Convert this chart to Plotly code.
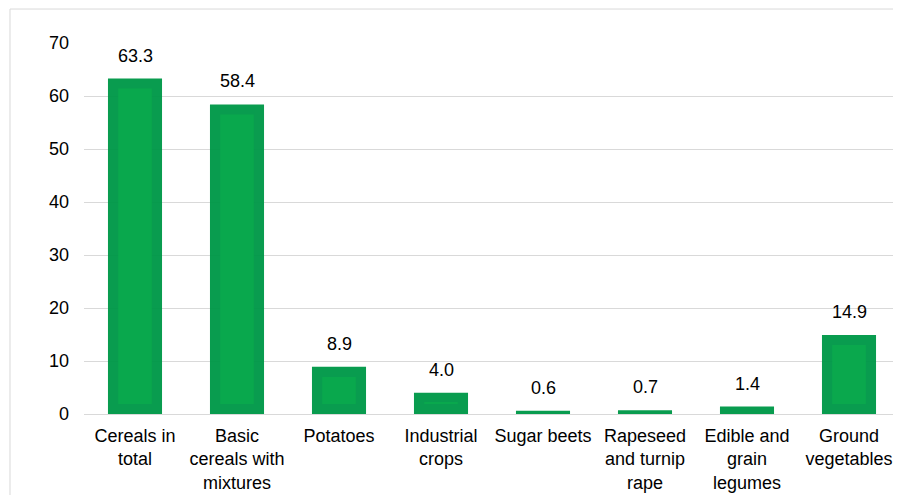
import plotly.graph_objects as go

categories = ["Cereals in<br>total", "Basic<br>cereals with<br>mixtures", "Potatoes",
              "Industrial<br>crops", "Sugar beets", "Rapeseed<br>and turnip<br>rape",
              "Edible and<br>grain<br>legumes", "Ground<br>vegetables"]
values = [63.3, 58.4, 8.9, 4.0, 0.6, 0.7, 1.4, 14.9]
y_ticks = [0, 10, 20, 30, 40, 50, 60, 70]

OUTER = "#009848"
INNER = "#0AA94D"
inset = 1.9  # bevel inset in axis units (style)
inner_vals = [max(v - 2 * inset, 0) for v in values]

FONT = "Liberation Sans, Arial, sans-serif"

fig = go.Figure()
fig.add_trace(go.Bar(x=categories, y=values, width=0.53, marker=dict(color=OUTER, line=dict(width=0)),
                     opacity=0.96, hoverinfo="skip"))
fig.add_trace(go.Bar(x=categories, y=inner_vals, base=[inset] * len(values), width=0.33,
                     marker=dict(color=INNER, line=dict(width=0)), opacity=0.96, hoverinfo="skip"))

for c, v in zip(categories, values):
    fig.add_annotation(x=c, y=v, text=f"{v:.1f}", showarrow=False, yanchor="middle", yshift=23,
                       font=dict(family=FONT, size=18, color="#000000"))

# outer chart frame (page body adds 8px offset)
fig.add_shape(type="rect", xref="paper", yref="paper", x0=-0.0907, x1=1.05, y0=-0.25, y1=1.0916,
              line=dict(color="#d9d9d9", width=1), fillcolor="rgba(0,0,0,0)", layer="below")

fig.update_layout(
    width=893, height=487,
    margin=dict(l=76, r=1, t=35, b=81),
    paper_bgcolor="white", plot_bgcolor="white",
    barmode="overlay", showlegend=False,
    font=dict(family=FONT, size=18, color="#000000"),
    xaxis=dict(showgrid=False, showline=False, ticks="", tickfont=dict(size=18), tickangle=0,
               ticklabelstandoff=9),
    yaxis=dict(range=[0, 70], tickvals=y_ticks, showgrid=True, gridcolor="#d9d9d9", gridwidth=1,
               zeroline=True, zerolinecolor="#d9d9d9", zerolinewidth=1, showline=False, ticks="",
               ticklabelstandoff=14, tickfont=dict(size=18)),
)

fig.write_html("out.html")
